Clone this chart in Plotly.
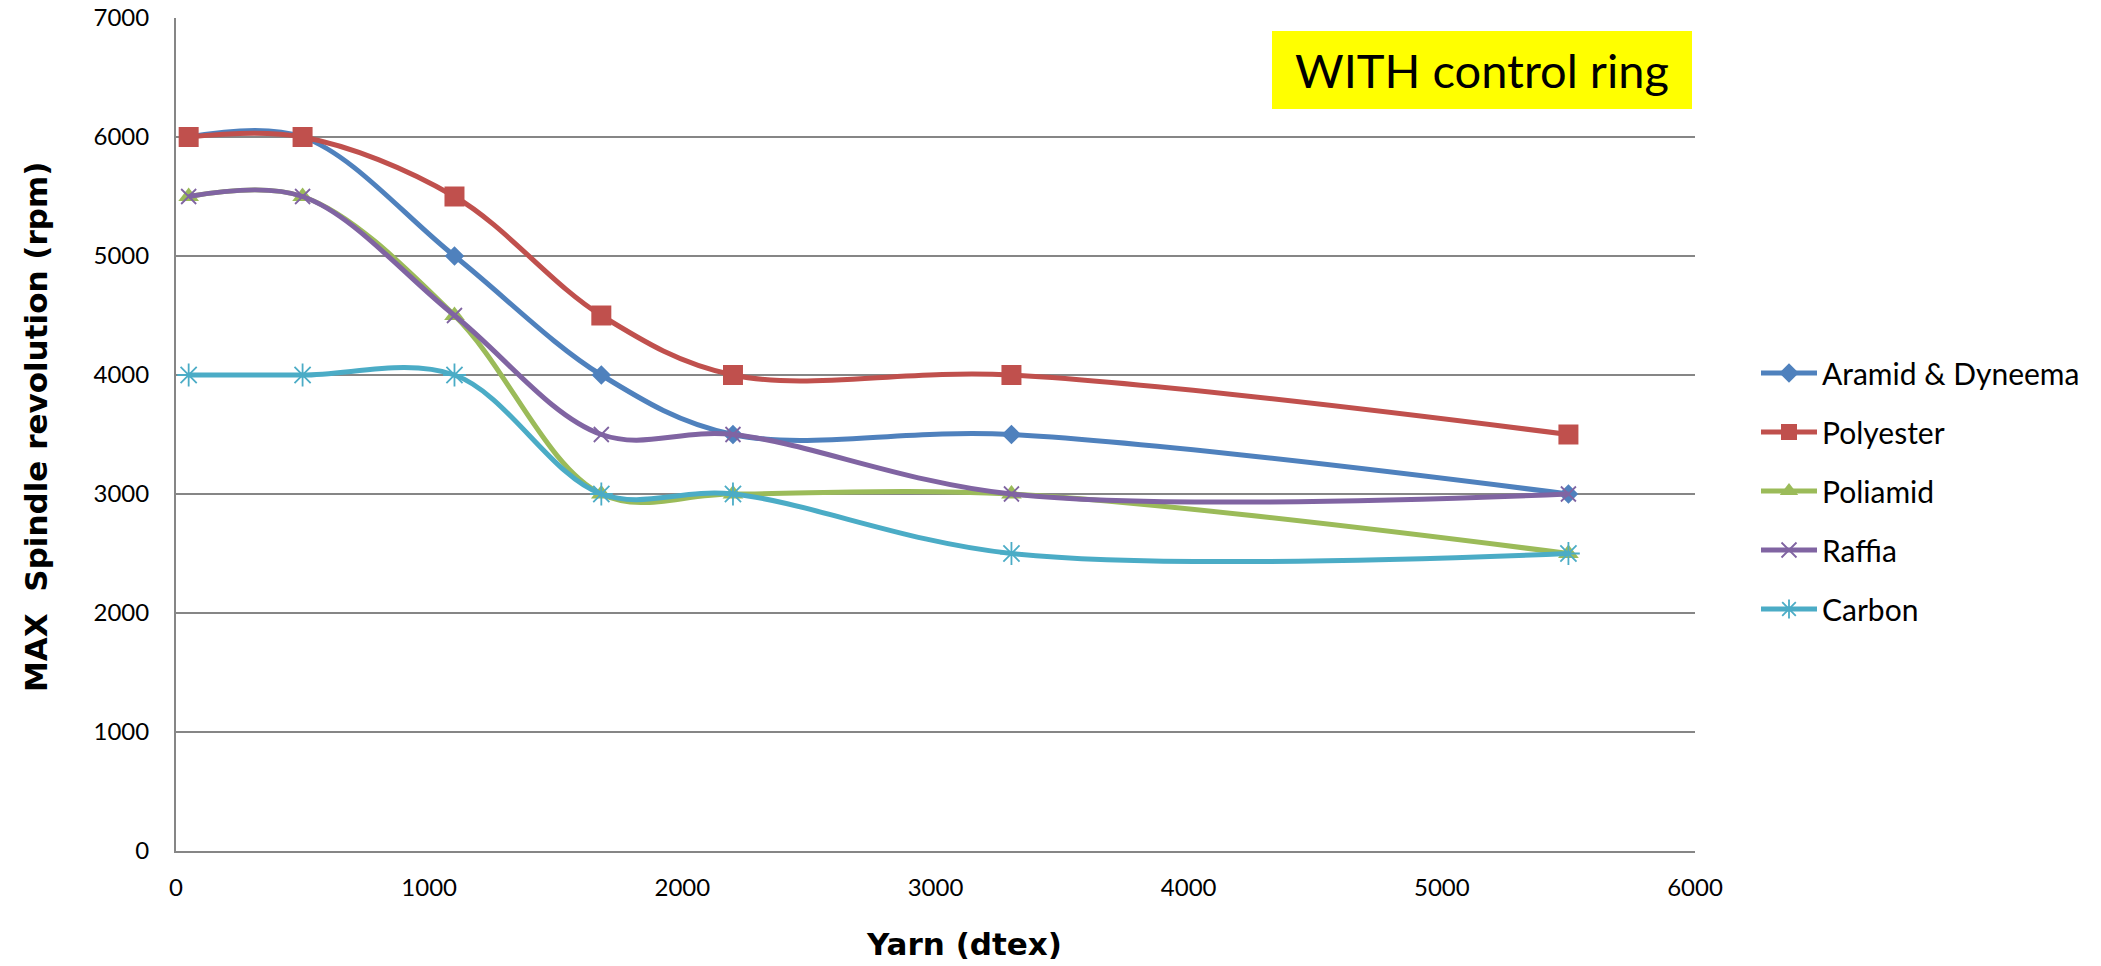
import plotly.graph_objects as go

# ---- data ----
yarn_dtex = [50, 500, 1100, 1680, 2200, 3300, 5500]
aramid_dyneema = [6000, 6000, 5000, 4000, 3500, 3500, 3000]
polyester = [6000, 6000, 5500, 4500, 4000, 4000, 3500]
poliamid = [5500, 5500, 4500, 3000, 3000, 3000, 2500]
raffia = [5500, 5500, 4500, 3500, 3500, 3000, 3000]
carbon = [4000, 4000, 4000, 3000, 3000, 2500, 2500]

series_names = ["Aramid & Dyneema", "Polyester", "Poliamid", "Raffia", "Carbon"]
series_values = [aramid_dyneema, polyester, poliamid, raffia, carbon]
y_ticks = [0, 1000, 2000, 3000, 4000, 5000, 6000, 7000]
x_ticks = [0, 1000, 2000, 3000, 4000, 5000, 6000]

# ---- styles ----
colors = ["#4F81BD", "#C0504D", "#9BBB59", "#8064A2", "#4BACC6"]
symbols = ["diamond", "square", "triangle-up", "x-thin-open", "asterisk-open"]
sizes = [15, 20, 18, 15, 19]
FONT = "Lato, 'Open Sans', sans-serif"
TITLE_FONT = "'DejaVu Sans', sans-serif"

W, H = 2101, 966
L, R, T, B = 176, 406, 18, 115
PW = W - L - R
PH = H - T - B

fig = go.Figure()
for name, vals, c, s, sz in zip(series_names, series_values, colors, symbols, sizes):
    fig.add_trace(go.Scatter(
        x=yarn_dtex, y=vals, name=name, mode="lines+markers",
        line=dict(color=c, width=5, shape="spline", smoothing=1),
        marker=dict(symbol=s, size=sz, color=c,
                    line=dict(color=c, width=1.8 if "open" in s else 0)),
        legendgroup=name,
    ))

def px_x(px):
    return (px - L) / PW

def px_y(py):
    return (H - B - py) / PH

fig.update_layout(
    width=W, height=H,
    margin=dict(l=L, r=R, t=T, b=B, autoexpand=False),
    paper_bgcolor="white", plot_bgcolor="white",
    font=dict(family=FONT, color="black"),
    showlegend=True,
    legend=dict(
        x=px_x(1756), y=px_y(491), xanchor="left", yanchor="middle",
        font=dict(size=30, family=FONT, color="black"),
        tracegroupgap=17, bgcolor="rgba(0,0,0,0)", itemwidth=56,
    ),
    xaxis=dict(
        range=[0, 6000], tickvals=x_ticks, ticktext=[str(v) for v in x_ticks],
        showgrid=False, zeroline=False, showline=True,
        linecolor="#868686", linewidth=2, automargin=False,
        tickfont=dict(size=24, family=FONT, color="black"),
        ticks="", ticklabelstandoff=14,
    ),
    yaxis=dict(
        range=[0, 7000], tickvals=y_ticks, ticktext=[str(v) for v in y_ticks],
        showgrid=True, gridcolor="#868686", gridwidth=1.5,
        zeroline=False, showline=True, linecolor="#868686", linewidth=2,
        automargin=False,
        tickfont=dict(size=24, family=FONT, color="black"),
        ticks="", ticklabelstandoff=20,
    ),
    shapes=[dict(
        type="rect", xref="paper", yref="paper",
        x0=px_x(1272), x1=px_x(1692), y0=px_y(109), y1=px_y(31),
        fillcolor="#FFFF00", line=dict(width=0), layer="above",
    )],
    annotations=[
        dict(text="WITH control ring", xref="paper", yref="paper",
             x=px_x(1482), y=px_y(70), xanchor="center", yanchor="middle",
             showarrow=False, font=dict(size=47, family=FONT, color="black")),
        dict(text="<b>Yarn (dtex)</b>", xref="paper", yref="paper",
             x=px_x(964), y=px_y(944), xanchor="center", yanchor="middle",
             showarrow=False, font=dict(size=31, family=TITLE_FONT, color="black")),
        dict(text="<b>MAX  Spindle revolution (rpm)</b>", xref="paper", yref="paper",
             x=px_x(36), y=px_y(427), xanchor="center", yanchor="middle",
             textangle=-90, showarrow=False,
             font=dict(size=31, family=TITLE_FONT, color="black")),
    ],
)

fig.write_html("out.html")
